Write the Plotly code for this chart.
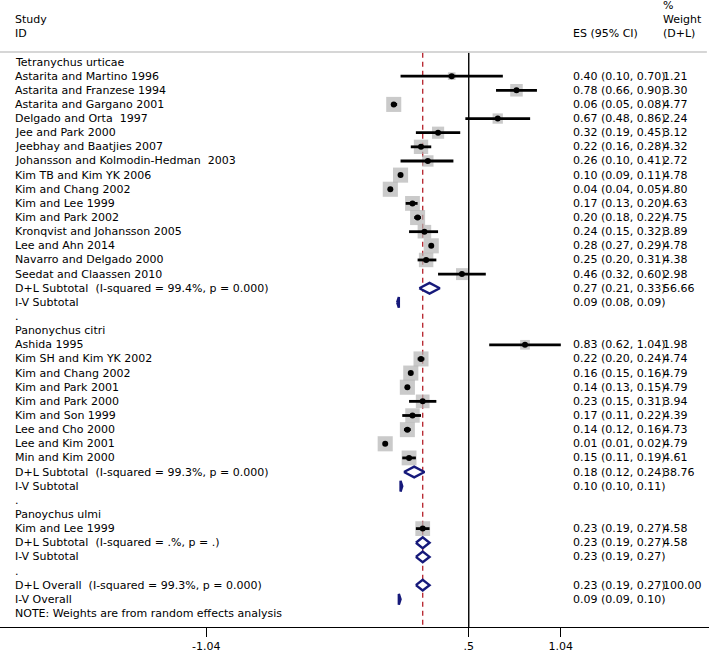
import plotly.graph_objects as go

# ---------------- data ----------------
groups = ["Tetranychus urticae", "Panonychus citri", "Panoychus ulmi"]

tu_studies = ["Astarita and Martino 1996", "Astarita and Franzese 1994", "Astarita and Gargano 2001",
              "Delgado and Orta  1997", "Jee and Park 2000", "Jeebhay and Baatjies 2007",
              "Johansson and Kolmodin-Hedman  2003", "Kim TB and Kim YK 2006", "Kim and Chang 2002",
              "Kim and Lee 1999", "Kim and Park 2002", "Kronqvist and Johansson 2005",
              "Lee and Ahn 2014", "Navarro and Delgado 2000", "Seedat and Claassen 2010"]
tu_es = [0.40, 0.78, 0.06, 0.67, 0.32, 0.22, 0.26, 0.10, 0.04, 0.17, 0.20, 0.24, 0.28, 0.25, 0.46]
tu_lci = [0.10, 0.66, 0.05, 0.48, 0.19, 0.16, 0.10, 0.09, 0.04, 0.13, 0.18, 0.15, 0.27, 0.20, 0.32]
tu_uci = [0.70, 0.90, 0.08, 0.86, 0.45, 0.28, 0.41, 0.11, 0.05, 0.20, 0.22, 0.32, 0.29, 0.31, 0.60]
tu_w = [1.21, 3.30, 4.77, 2.24, 3.12, 4.32, 2.72, 4.78, 4.80, 4.63, 4.75, 3.89, 4.78, 4.38, 2.98]

pc_studies = ["Ashida 1995", "Kim SH and Kim YK 2002", "Kim and Chang 2002", "Kim and Park 2001",
              "Kim and Park 2000", "Kim and Son 1999", "Lee and Cho 2000", "Lee and Kim 2001",
              "Min and Kim 2000"]
pc_es = [0.83, 0.22, 0.16, 0.14, 0.23, 0.17, 0.14, 0.01, 0.15]
pc_lci = [0.62, 0.20, 0.15, 0.13, 0.15, 0.11, 0.12, 0.01, 0.11]
pc_uci = [1.04, 0.24, 0.16, 0.15, 0.31, 0.22, 0.16, 0.02, 0.19]
pc_w = [1.98, 4.74, 4.79, 4.79, 3.94, 4.39, 4.73, 4.79, 4.61]

pu_studies = ["Kim and Lee 1999"]
pu_es = [0.23]
pu_lci = [0.19]
pu_uci = [0.27]
pu_w = [4.58]

dl_het = ["99.4%, p = 0.000", "99.3%, p = 0.000", ".%, p = ."]
dl_es = [0.27, 0.18, 0.23]
dl_lci = [0.21, 0.12, 0.19]
dl_uci = [0.33, 0.24, 0.27]
dl_w = [56.66, 38.76, 4.58]

iv_es = [0.09, 0.10, 0.23]
iv_lci = [0.08, 0.10, 0.19]
iv_uci = [0.09, 0.11, 0.27]

overall_het = "99.3%, p = 0.000"
overall_dl = [0.23, 0.19, 0.27, 100.00]
overall_iv = [0.09, 0.09, 0.10]

null_value = 0.5
tick_vals = [-1.04, 0.5, 1.04]
tick_text = ["-1.04", ".5", "1.04"]
note_text = "NOTE: Weights are from random effects analysis"

# ---------------- build rows ----------------
rows = []
g_data = [(tu_studies, tu_es, tu_lci, tu_uci, tu_w),
          (pc_studies, pc_es, pc_lci, pc_uci, pc_w),
          (pu_studies, pu_es, pu_lci, pu_uci, pu_w)]
for gi, (st, es, lo, hi, w) in enumerate(g_data):
    rows.append(dict(kind="group", label=groups[gi]))
    for s, e, l, u, ww in zip(st, es, lo, hi, w):
        rows.append(dict(kind="study", label=s, es=e, lci=l, uci=u, w=ww))
    rows.append(dict(kind="dl", label=f"D+L Subtotal  (I-squared = {dl_het[gi]})",
                     es=dl_es[gi], lci=dl_lci[gi], uci=dl_uci[gi], w=dl_w[gi]))
    rows.append(dict(kind="iv", label="I-V Subtotal", es=iv_es[gi], lci=iv_lci[gi], uci=iv_uci[gi]))
    rows.append(dict(kind="blank", label="."))
rows.append(dict(kind="dl", label=f"D+L Overall  (I-squared = {overall_het})",
                 es=overall_dl[0], lci=overall_dl[1], uci=overall_dl[2], w=overall_dl[3]))
rows.append(dict(kind="iv", label="I-V Overall", es=overall_iv[0], lci=overall_iv[1], uci=overall_iv[2]))
rows.append(dict(kind="note", label=note_text))
for i, r in enumerate(rows):
    r["y"] = i + 1

# ---------------- figure ----------------
W, H = 709, 655
FONT = "DejaVu Sans"
NAVY = "#16197a"
fig = go.Figure()

studies = [r for r in rows if r["kind"] == "study"]
# grey weight boxes
fig.add_trace(go.Scatter(
    x=[r["es"] for r in studies], y=[r["y"] for r in studies], mode="markers",
    marker=dict(symbol="square", color="#b3b3b3", size=[6.9 * r["w"] ** 0.5 for r in studies],
                line=dict(width=0)),
    hoverinfo="skip", showlegend=False))
# CI lines
cx, cy = [], []
for r in studies:
    cx += [r["lci"], r["uci"], None]
    cy += [r["y"], r["y"], None]
fig.add_trace(go.Scatter(x=cx, y=cy, mode="lines", line=dict(color="black", width=2.8),
                         hoverinfo="skip", showlegend=False))
# point estimates
fig.add_trace(go.Scatter(
    x=[r["es"] for r in studies], y=[r["y"] for r in studies], mode="markers",
    marker=dict(symbol="circle", color="black", size=6, line=dict(width=0)),
    hoverinfo="skip", showlegend=False))

# diamonds
hh = 0.38
for r in rows:
    if r["kind"] in ("dl", "iv"):
        fig.add_trace(go.Scatter(
            x=[r["lci"], r["es"], r["uci"], r["es"], r["lci"]],
            y=[r["y"], r["y"] - hh, r["y"], r["y"] + hh, r["y"]],
            mode="lines", fill="toself", fillcolor="white",
            line=dict(color=NAVY, width=2.4), hoverinfo="skip", showlegend=False))

# axis geometry
x0px = 383.5
pxu = 170.5
xr = [-x0px / pxu, (W - x0px) / pxu]
row1_px, row_h = 62.0, 14.14
plot_bottom = 627
yr_top = 1 - row1_px / row_h
yr_bot = 1 + (plot_bottom - row1_px) / row_h

line_top = 0.35
fig.add_shape(type="line", xref="x", yref="y", x0=null_value, x1=null_value, y0=line_top, y1=yr_bot,
              line=dict(color="black", width=1.4), layer="below")
fig.add_shape(type="line", xref="x", yref="y", x0=overall_dl[0], x1=overall_dl[0], y0=line_top, y1=yr_bot,
              line=dict(color="#b5202a", width=1.3, dash="5px,4px"), layer="below")
# header separator
fig.add_shape(type="line", xref="paper", yref="y", x0=0.0, x1=0.997, y0=0.3, y1=0.3,
              line=dict(color="#c8c8c8", width=1.5))

ann = []
def txt(xpx, y, s):
    ann.append(dict(x=xpx / W, xref="paper", y=y, yref="y", text=s, showarrow=False,
                    xanchor="left", yanchor="middle", font=dict(family=FONT, size=11, color="black")))

lab_x, es_x, w_x = 13, 571, 661
txt(lab_x, -2, "Study")
txt(lab_x, -1, "ID")
txt(es_x, -1, "ES (95% CI)")
txt(w_x, -3, "%")
txt(w_x, -2, "Weight")
txt(w_x, -1, "(D+L)")

for r in rows:
    txt(lab_x, r["y"], r["label"])
    if r["kind"] in ("study", "dl", "iv"):
        txt(es_x, r["y"], f'{r["es"]:.2f} ({r["lci"]:.2f}, {r["uci"]:.2f})')
    if r["kind"] in ("study", "dl"):
        txt(w_x, r["y"], f'{r["w"]:.2f}')

fig.update_layout(
    width=W, height=H, margin=dict(l=0, r=0, t=0, b=H - plot_bottom),
    paper_bgcolor="white", plot_bgcolor="white", showlegend=False,
    annotations=ann,
    xaxis=dict(range=xr, showgrid=False, zeroline=False, showline=True, linecolor="black", linewidth=1,
               ticks="outside", ticklen=9, tickcolor="black", tickwidth=1.2,
               tickvals=tick_vals, ticktext=tick_text, automargin=False,
               tickfont=dict(family=FONT, size=11, color="black")),
    yaxis=dict(range=[yr_bot, yr_top], visible=False, showgrid=False, zeroline=False),
)

fig.write_html("out.html", config={"displayModeBar": False},
               post_script="document.body.style.margin='0';document.body.style.padding='0';")
